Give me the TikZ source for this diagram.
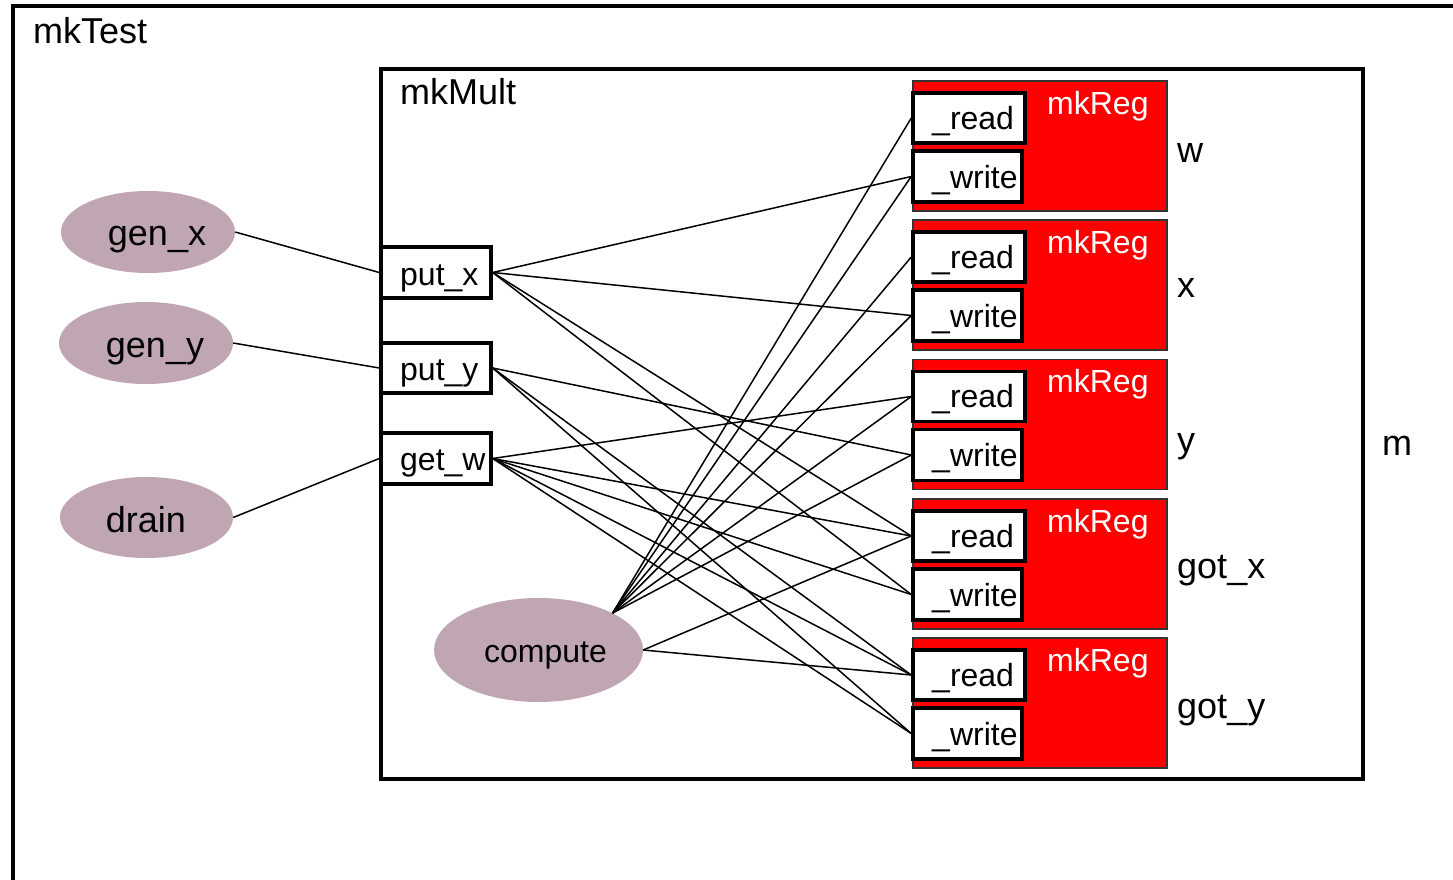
\documentclass[tikz,border=0pt]{standalone}
\usepackage{fontspec}
\setmainfont{Liberation Sans}
\usetikzlibrary{shapes.geometric}
\definecolor{mauve}{RGB}{192,166,178}
\definecolor{regred}{RGB}{255,0,0}
\begin{document}
\begin{tikzpicture}[x=1pt,y=-1pt,
  big/.style={font=\fontsize{36}{40}\selectfont, inner sep=0pt},
  small/.style={font=\fontsize{32}{36}\selectfont, inner sep=0pt},
  ell/.style={ellipse, fill=mauve, inner sep=0pt},
  port/.style={draw, line width=3.5pt, fill=white, inner sep=0pt},
  regbox/.style={draw=black!80, line width=1.2pt, fill=regred, inner sep=0pt, minimum width=254pt, minimum height=130pt},
  wire/.style={line width=1.5pt},
  frame/.style={line width=4pt}]
\useasboundingbox (0,0) rectangle (1453,880);
% outer module
\draw[frame] (13,884) -- (13,6) -- (1457,6);
\node[big, anchor=base west] (mktest) at (33,44) {mkTest};
% mkMult
\draw[line width=3.5pt] (381,69) rectangle (1363,779);
\node[big, anchor=base west] (mkmult) at (400,105) {mkMult};
\node[big, anchor=base west] (mlab) at (1382,455) {m};
% ellipses
\node[ell, minimum width=174pt, minimum height=82pt] (genx) at (148,232) {};
\node[ell, minimum width=174pt, minimum height=82pt] (geny) at (146,343) {};
\node[ell, minimum width=173pt, minimum height=81pt] (drain) at (146.5,517.5) {};
\node[ell, minimum width=209pt, minimum height=104pt] (compute) at (538.5,650) {};
\node[big, anchor=base] (genxt) at (157,245) {gen\_x};
\node[big, anchor=base] (genyt) at (155,357) {gen\_y};
\node[big, anchor=base] (draint) at (146,532) {drain};
\node[small, anchor=base] (computet) at (545.5,662) {compute};
% ports
\node[port, minimum width=110pt, minimum height=51pt] (px) at (436,272.5) {};
\node[port, minimum width=110pt, minimum height=50pt] (py) at (436,368) {};
\node[port, minimum width=110pt, minimum height=51pt] (gw) at (436,458.5) {};
\node[small, anchor=base west] (pxt) at (400,285) {put\_x};
\node[small, anchor=base west] (pyt) at (400,380) {put\_y};
\node[small, anchor=base west] (gwt) at (400,470) {get\_w};
% registers
\foreach \i/\T/\lab/\lb in {1/81/w/162, 2/220/x/297, 3/359.5/y/452, 4/499/got\_x/578, 5/638/got\_y/718}{
  \node[regbox] (reg\i) at (1040,\T+65) {};
  \node[port, minimum width=112pt, minimum height=50pt] (rd\i) at (969,\T+37) {};
  \node[port, minimum width=109pt, minimum height=51pt] (wr\i) at (967.5,\T+95.5) {};
  \node[small, anchor=base west] (rdt\i) at (932,\T+48) {\_read};
  \node[small, anchor=base west] (wrt\i) at (932,\T+107) {\_write};
  \node[small, anchor=base west, text=white] (mkreg\i) at (1047,\T+33) {mkReg};
  \node[big, anchor=base west] (side\i) at (1177,\lb) {\lab};
}
% connectors
\draw[wire] (genx.east) -- (px.west);
\draw[wire] (geny.east) -- (py.west);
\draw[wire] (drain.east) -- (gw.west);
\foreach \t in {wr1,wr2,rd4,wr4}{\draw[wire] (px.east) -- (\t.west);}
\foreach \t in {wr3,rd5,wr5}{\draw[wire] (py.east) -- (\t.west);}
\foreach \t in {rd3,rd4,wr4,rd5,wr5}{\draw[wire] (gw.east) -- (\t.west);}
\foreach \t in {rd1,wr1,rd2,wr2,rd3,wr3}{\draw[wire] (compute.north east) -- (\t.west);}
\foreach \t in {rd4,rd5}{\draw[wire] (compute.east) -- (\t.west);}
\end{tikzpicture}
\end{document}
